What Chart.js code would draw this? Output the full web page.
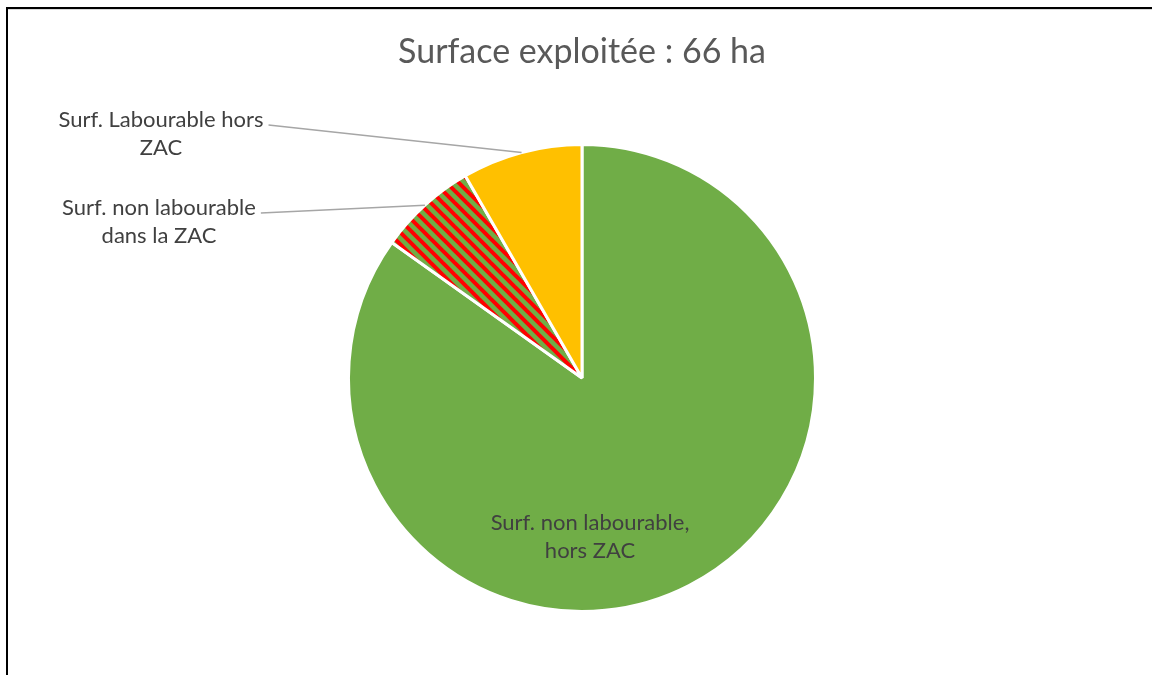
<!DOCTYPE html>
<html>
<head>
<meta charset="utf-8">
<script src="https://cdn.jsdelivr.net/npm/chart.js@4"></script>
<style>
  html, body { margin: 0; padding: 0; background: #fff; }
  #wrap { width: 1152px; height: 675px; position: relative; }
</style>
</head>
<body>
<div id="wrap"><canvas id="surfChart"></canvas></div>
<script>
const titre = 'Surface exploitée : 66 ha';
const categories = ['Surf. non labourable, hors ZAC', 'Surf. non labourable dans la ZAC', 'Surf. Labourable hors ZAC'];
const surfaces = [56, 4.5, 5.5]; // ha
// how each label breaks on the picture
const etiquettes = [
  ['Surf. non labourable,', 'hors ZAC'],
  ['Surf. non labourable', 'dans la ZAC'],
  ['Surf. Labourable hors', 'ZAC']
];

const police = 'Lato, sans-serif';

// red / green hatching for the slice inside the ZAC
function hachures() {
  const c = document.createElement('canvas');
  c.width = 12; c.height = 12;
  const g = c.getContext('2d');
  g.fillStyle = '#70ad47';
  g.fillRect(0, 0, 12, 12);
  g.strokeStyle = '#ff0000';
  g.lineWidth = 4;
  for (let k = -1; k <= 1; k++) {
    g.beginPath();
    g.moveTo(k * 12 - 6, -6);
    g.lineTo(k * 12 + 18, 18);
    g.stroke();
  }
  return g.createPattern(c, 'repeat');
}

// where labels go: inside slice (offset from pie centre) or outside with a leader line
const placements = [
  { dx: 8, dy: 159 },
  { x: 159, y: 208, lead: true },
  { x: 161, y: 120, lead: true }
];

const decor = {
  id: 'decor',
  beforeDraw(chart) {
    const ctx = chart.ctx;
    ctx.save();
    ctx.fillStyle = '#fff';
    ctx.fillRect(0, 0, chart.width, chart.height);
    ctx.fillStyle = '#000';
    ctx.fillRect(6, 7, 2, chart.height - 7);
    ctx.fillRect(6, 7, chart.width - 6, 2);
    ctx.fillStyle = '#d9d9d9';
    ctx.fillRect(8, 9, chart.width - 8, 1);
    ctx.restore();
  },
  afterDatasetsDraw(chart) {
    const ctx = chart.ctx;
    const arcs = chart.getDatasetMeta(0).data;
    ctx.save();
    ctx.fillStyle = '#595959';
    ctx.font = '34px ' + police;
    ctx.textAlign = 'center';
    ctx.textBaseline = 'middle';
    ctx.fillText(titre, arcs[0].x, 52);

    ctx.font = '22px ' + police;
    ctx.fillStyle = '#404040';
    arcs.forEach((arc, i) => {
      const p = placements[i];
      const lignes = etiquettes[i];
      if (p.lead) {
        const mid = (arc.startAngle + arc.endAngle) / 2;
        const ex = arc.x + Math.cos(mid) * arc.outerRadius;
        const ey = arc.y + Math.sin(mid) * arc.outerRadius;
        const w = ctx.measureText(lignes[0]).width;
        ctx.strokeStyle = '#a6a6a6';
        ctx.lineWidth = 1.5;
        ctx.beginPath();
        ctx.moveTo(p.x + w / 2 + 5, p.y + 5);
        ctx.lineTo(ex, ey);
        ctx.stroke();
        lignes.forEach((t, j) => ctx.fillText(t, p.x, p.y + j * 28));
      } else {
        lignes.forEach((t, j) => ctx.fillText(t, arc.x + p.dx, arc.y + p.dy - 14 + j * 28));
      }
    });
    ctx.restore();
  }
};

new Chart(document.getElementById('surfChart'), {
  type: 'pie',
  data: {
    labels: categories,
    datasets: [{
      data: surfaces,
      backgroundColor: ['#70ad47', hachures(), '#ffc000'],
      borderColor: '#ffffff',
      borderWidth: 3
    }]
  },
  options: {
    responsive: true,
    maintainAspectRatio: false,
    animation: false,
    layout: { padding: { top: 143, bottom: 62, left: 12, right: 0 } },
    plugins: {
      legend: { display: false },
      tooltip: { enabled: false },
      title: { display: false }
    }
  },
  plugins: [decor]
});
</script>
</body>
</html>
